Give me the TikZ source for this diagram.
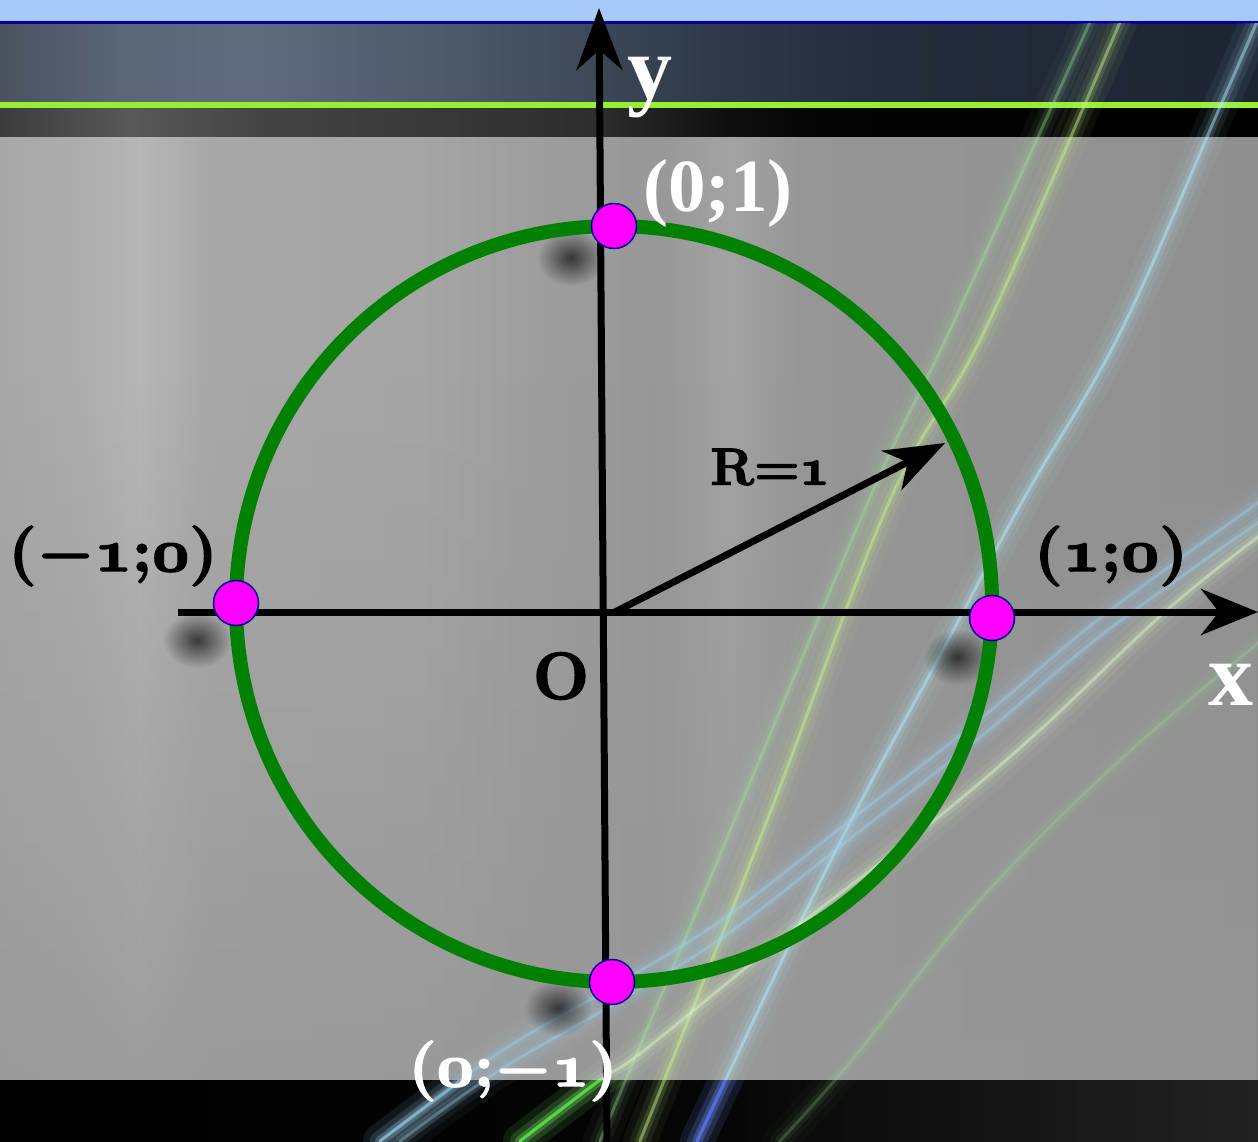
\RequirePackage{fix-cm}
\documentclass[tikz,border=0pt]{standalone}
\usepackage{fontspec}
\newfontfamily\timesb{Liberation Serif}
\usetikzlibrary{arrows.meta,fadings}
\newcommand\osn[1]{{\usefont{OML}{cmm}{b}{it}#1}}
\newcommand\bmin{{\boldmath$-$}}
\newcommand\heavy[2]{\special{pdf:literal direct 2 Tr #1 w}#2\special{pdf:literal direct 0 Tr}}
\definecolor{topblue}{HTML}{A9C9FB}
\definecolor{lineblue}{HTML}{0000A0}
\definecolor{limeline}{HTML}{96F032}
\definecolor{circgreen}{HTML}{008000}
\definecolor{dotmag}{HTML}{FF00FF}
\definecolor{dotrim}{HTML}{00008C}
\definecolor{lowgray}{HTML}{979797}
\definecolor{stG}{HTML}{C8F58C}
\definecolor{stG2}{HTML}{A8E8A0}
\definecolor{stC}{HTML}{B4F0FF}
\definecolor{stB}{HTML}{A0D4F0}
\definecolor{stW}{HTML}{DDF8C8}
\tikzfading[name=softspot,inner color=transparent!35,outer color=transparent!100]
\newcommand\streak[3]{\foreach \w/\o in {34/.05,20/.08,10/.14,3/.42}{\draw[#1,line width=\w pt,opacity=#2*\o,line cap=round] plot[smooth,tension=.6] coordinates {#3};}}
\newcommand\band[3]{\foreach \xa/\ca/\xb/\cb in {#3}{\shade[left color=\ca,right color=\cb] (\xa-0.6,#1) rectangle (\xb+0.6,#2);}}
\tikzset{
  axisline/.style={line width=7pt,black},
  dot/.style={circle,minimum size=45pt,inner sep=0pt,fill=dotmag,draw=dotrim,line width=1.5pt},
  lab/.style={font=\fontsize{60}{62}\selectfont\bfseries,inner sep=0pt},
  timeslab/.style={font=\timesb\bfseries\fontsize{#1}{#1}\selectfont,inner sep=0pt,text=white},
}
\begin{document}
\begin{tikzpicture}[x=1pt,y=-1pt]
\useasboundingbox (0,0) rectangle (1258,1141);
% ---------- background ----------
\fill[topblue] (0,0) rectangle (1258,22);
\band{22}{102}{0/{rgb,255:red,74;green,82;blue,96}/120/{rgb,255:red,91;green,102;blue,118},
 120/{rgb,255:red,91;green,102;blue,118}/250/{rgb,255:red,94;green,108;blue,126},
 250/{rgb,255:red,94;green,108;blue,126}/420/{rgb,255:red,80;green,91;blue,107},
 420/{rgb,255:red,80;green,91;blue,107}/580/{rgb,255:red,63;green,74;blue,90},
 580/{rgb,255:red,63;green,74;blue,90}/720/{rgb,255:red,46;green,56;blue,70},
 720/{rgb,255:red,46;green,56;blue,70}/900/{rgb,255:red,35;green,44;blue,58},
 900/{rgb,255:red,35;green,44;blue,58}/1258/{rgb,255:red,29;green,37;blue,51}}
\fill[lineblue] (0,21) rectangle (1258,23.5);
\band{108}{137}{0/{rgb,255:red,60;green,60;blue,60}/130/{rgb,255:red,88;green,88;blue,88},
 130/{rgb,255:red,88;green,88;blue,88}/260/{rgb,255:red,68;green,68;blue,68},
 260/{rgb,255:red,68;green,68;blue,68}/600/{rgb,255:red,45;green,45;blue,45},
 600/{rgb,255:red,45;green,45;blue,45}/720/{rgb,255:red,16;green,16;blue,16},
 720/{rgb,255:red,16;green,16;blue,16}/820/{rgb,255:red,4;green,4;blue,4},
 820/{rgb,255:red,4;green,4;blue,4}/1258/{rgb,255:red,0;green,0;blue,0}}
\fill[limeline] (0,102) rectangle (1258,108);
\band{137}{1080}{0/{rgb,255:red,168;green,168;blue,168}/80/{rgb,255:red,173;green,173;blue,173},
 80/{rgb,255:red,173;green,173;blue,173}/140/{rgb,255:red,182;green,182;blue,182},
 140/{rgb,255:red,182;green,182;blue,182}/210/{rgb,255:red,168;green,168;blue,168},
 210/{rgb,255:red,168;green,168;blue,168}/420/{rgb,255:red,165;green,165;blue,165},
 420/{rgb,255:red,165;green,165;blue,165}/580/{rgb,255:red,155;green,155;blue,155},
 580/{rgb,255:red,155;green,155;blue,155}/660/{rgb,255:red,152;green,152;blue,152},
 660/{rgb,255:red,152;green,152;blue,152}/730/{rgb,255:red,163;green,163;blue,163},
 730/{rgb,255:red,163;green,163;blue,163}/800/{rgb,255:red,150;green,150;blue,150},
 800/{rgb,255:red,150;green,150;blue,150}/1258/{rgb,255:red,143;green,143;blue,143}}
\fill[lowgray,path fading=north,opacity=.8] (0,380) rectangle (1258,1080);
\band{1080}{1141}{0/{rgb,255:red,0;green,0;blue,0}/700/{rgb,255:red,5;green,5;blue,5},
 700/{rgb,255:red,5;green,5;blue,5}/1258/{rgb,255:red,34;green,34;blue,34}}
% ---------- light streaks ----------
\begin{scope}
\clip (0,23.5) rectangle (1258,1141);
\streak{stG2}{.8}{(1090,22) (950,330) (869,500) (684,941) (600,1141)}
\streak{stG}{1.1}{(1120,22) (985,330) (890,500) (768,818) (640,1141)}
\streak{stC}{1.1}{(1262,10) (1223,100) (1120,333) (1023,500) (936,663) (869,786) (797,929) (697,1141)}
\streak{stB}{.9}{(1262,500) (1104,615) (978,721) (852,819) (726,917) (621,982) (500,1052) (380,1141)}
\streak{stB}{.9}{(1262,520) (1104,633) (978,739) (852,837) (726,935) (621,1000) (500,1070) (400,1141)}
\streak{stW}{1.1}{(1262,534) (1167,610) (1041,729) (936,819) (789,933) (642,1052) (600,1080) (520,1141)}
\streak{stG2}{.5}{(1262,640) (1120,760) (980,900) (852,1060) (780,1141)}
\end{scope}
\begin{scope}
\clip (0,1080) rectangle (1258,1141);
\streak{green!70!stG}{1.2}{(642,1052) (600,1080) (520,1141)}
\streak{stB}{1.2}{(500,1052) (380,1141)}
\streak{blue!60!stC}{1.4}{(797,929) (697,1141)}
\end{scope}
% ---------- soft shadows ----------
\foreach \sx/\sy in {571/258,197/640,957/657,558/1008}{
  \fill[black,path fading=softspot] (\sx,\sy) ellipse[x radius=34pt,y radius=28pt];}
% ---------- circle and axes ----------
\draw[circgreen,line width=14pt] (614,604) circle[radius=378pt];
\coordinate (xs) at (178,612);
\coordinate (xe) at (1258,612);
\coordinate (ys) at (607,1146);
\coordinate (ye) at (599,8);
\coordinate (o) at (613,613);
\coordinate (rt) at (945,443);
\draw[axisline,-{Stealth[length=57pt,width=46pt,inset=18pt]}] (xs) -- (xe);
\draw[axisline,-{Stealth[length=62pt,width=46pt,inset=20pt]}] (ys) -- (ye);
\draw[axisline,-{Stealth[length=60pt,width=44pt,inset=18pt]}] (o) -- (rt);
% ---------- points ----------
\node[dot] (ptop) at (614,226) {};
\node[dot] (pbot) at (612,982) {};
\node[dot] (pleft) at (236,603) {};
\node[dot] (pright) at (992,618) {};
% ---------- labels ----------
\node[timeslab=90,anchor=base west] (ylab) at (627,98) {y};
\node[timeslab=90,anchor=base west] (xlab) at (1208,705) {x};
\node[timeslab=75] (ltop) at (718,193) {(0;1)};
\node[lab] (lright) at (1111,556) {\heavy{1.6}{\scalebox{1.1}[1]{(\osn{1};\osn{0})}}};
\node[lab] (lleft) at (113,556) {\heavy{1.6}{\scalebox{1.08}[1]{(\bmin\osn{1};\osn{0})}}};
\node[lab,text=white] (lbot) at (513,1071) {\heavy{1.6}{\scalebox{1.08}[1]{(\osn{0};\bmin\osn{1})}}};
\node[lab,font=\fontsize{66}{68}\selectfont\bfseries] (olab) at (561,676) {\heavy{1.8}{O}};
\node[lab,font=\fontsize{52}{54}\selectfont\bfseries] (rlab) at (770,467) {\heavy{1.4}{R=\osn{1}}};
\end{tikzpicture}
\end{document}
